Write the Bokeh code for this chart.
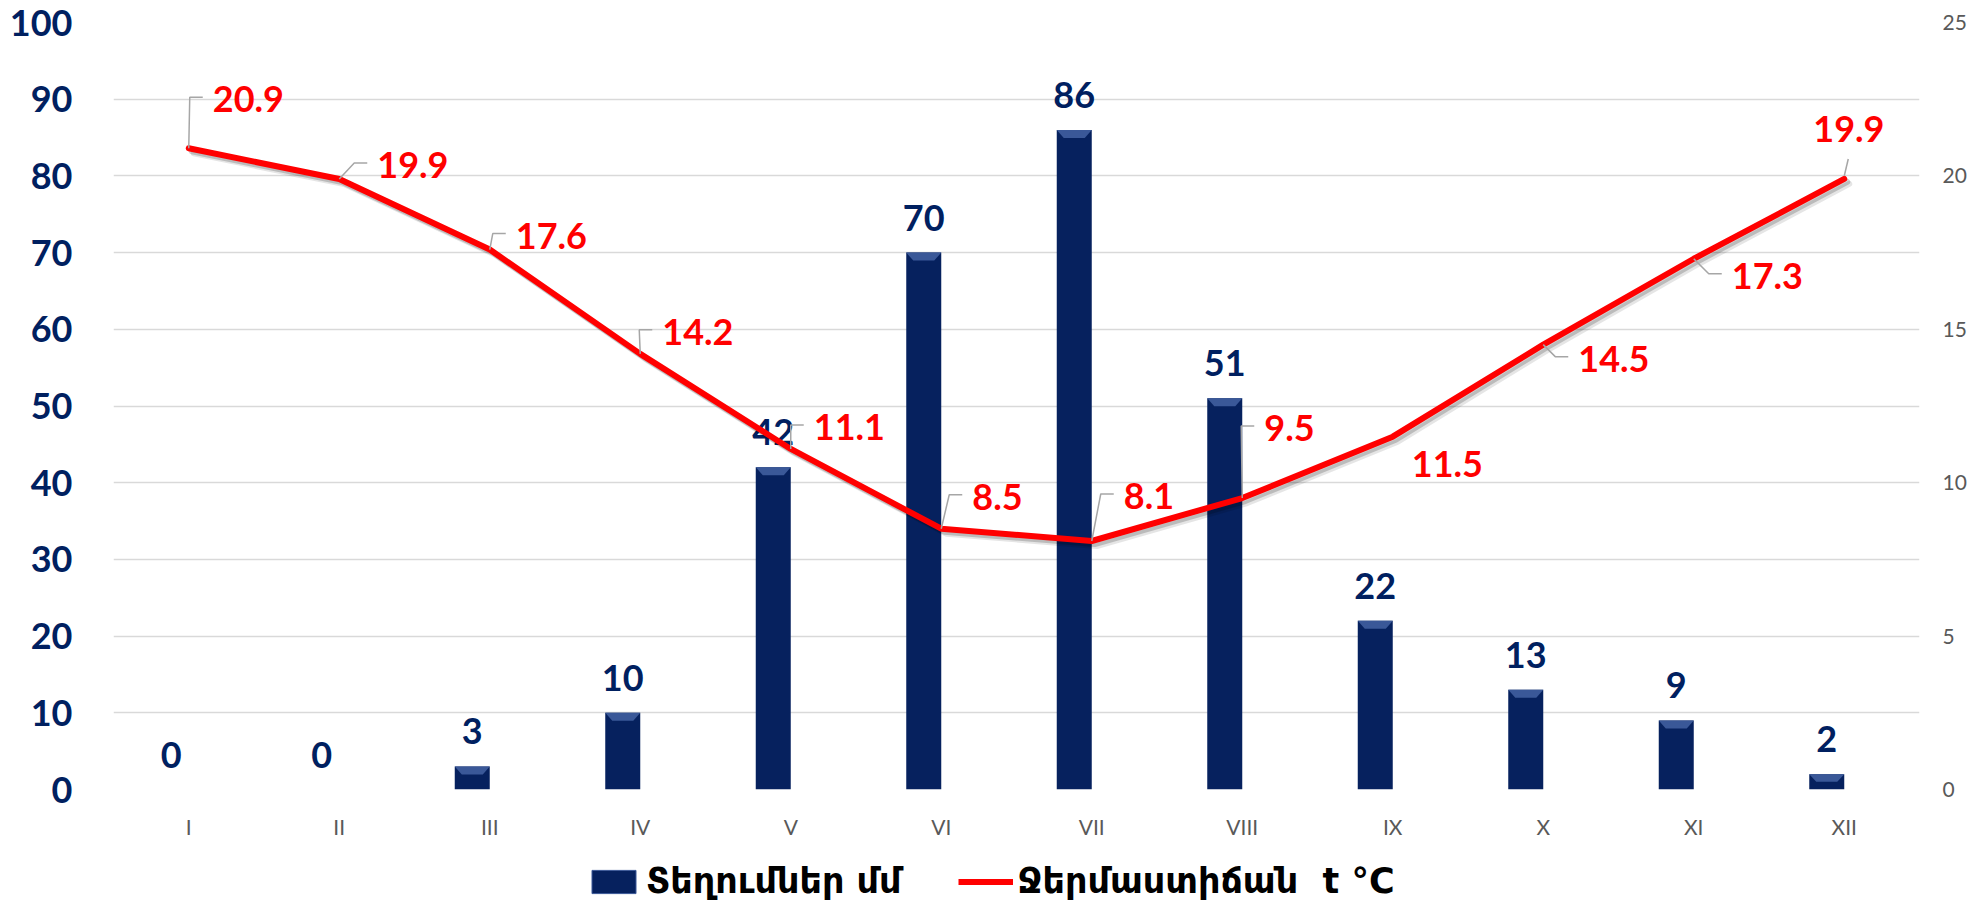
from bokeh.plotting import figure
from bokeh.layouts import column
from bokeh.models import (Range1d, LinearAxis, FixedTicker, Legend, LegendItem,
                          ColumnDataSource)
from bokeh.core.properties import value
from bokeh.embed import file_html
from bokeh.resources import INLINE

# ---- data ----
months = ["I", "II", "III", "IV", "V", "VI", "VII", "VIII", "IX", "X", "XI", "XII"]
precip = [0, 0, 3, 10, 42, 70, 86, 51, 22, 13, 9, 2]
temp = [20.9, 19.9, 17.6, 14.2, 11.1, 8.5, 8.1, 9.5, 11.5, 14.5, 17.3, 19.9]
precip_ticks = [0, 10, 20, 30, 40, 50, 60, 70, 80, 90, 100]
temp_ticks = [0, 5, 10, 15, 20, 25]
legend_labels = ["Տեղումներ մմ", "Ջերմաստիճան  t °C"]

# ---- style constants ----
W = 1971
H1, H2 = 844, 57
BL, BR, BT, BB = 113, 52, 22, 55
FRAME_W = W - BL - BR
FRAME_H = H1 - BT - BB
PX_X = FRAME_W / 12.0          # px per category
PX_T = FRAME_H / 25.0          # px per degree
PX_P = FRAME_H / 100.0         # px per mm
BAR_SHIFT = -17.5 / PX_X
BAR_W = 35 / PX_X
NAVY = "#002060"
BAR_FILL = "#06215e"
BEVEL = "#3a5898"
RED = "#FF0000"
GRAY = "#595959"
NUM_FONT = "Lato"

# temperature label placement (px: label left edge / centre relative to point)
lab_dx = [24, 38, 26, 22, 23, 31, 32, 22, 19, 35, 38, -31]
lab_dy = [-49, -14, -14, -22, -22, -32, -45, -70, 27, 14, 17, -50]
leader = ["elbow", "elbow", "elbow", "elbow", "elbow", "elbow", "elbow", "elbow",
          "none", "elbow", "elbow", "up"]

centers = [i + 0.5 for i in range(len(months))]
bar_x = [c + BAR_SHIFT for c in centers]

p = figure(width=W, height=H1, x_range=Range1d(0, 12), y_range=Range1d(0, 100),
           output_backend="svg", toolbar_location=None,
           min_border_left=BL, min_border_right=BR, min_border_top=BT,
           min_border_bottom=BB)
p.outline_line_color = None
p.background_fill_color = "white"
p.extra_y_ranges = {"temp": Range1d(0, 25)}

# grid
p.xgrid.grid_line_color = None
p.ygrid.ticker = FixedTicker(ticks=precip_ticks)
p.ygrid.grid_line_color = "#d9d9d9"
p.ygrid.grid_line_width = 1.5

# x axis
xa = p.xaxis[0]
xa.ticker = FixedTicker(ticks=centers)
xa.major_label_overrides = {c: m for c, m in zip(centers, months)}
xa.axis_line_color = None
xa.major_tick_line_color = None
xa.minor_tick_line_color = None
xa.major_tick_out = 0
xa.major_tick_in = 0
xa.major_label_standoff = 24
xa.major_label_text_font = NUM_FONT
xa.major_label_text_font_size = "21px"
xa.major_label_text_color = GRAY

# left axis
ya = p.yaxis[0]
ya.ticker = FixedTicker(ticks=precip_ticks)
ya.axis_line_color = None
ya.major_tick_line_color = None
ya.minor_tick_line_color = None
ya.major_tick_out = 0
ya.major_tick_in = 0
ya.major_label_standoff = 41
ya.major_label_text_font = NUM_FONT
ya.major_label_text_font_style = "bold"
ya.major_label_text_font_size = "36px"
ya.major_label_text_color = NAVY

# right axis
ra = LinearAxis(y_range_name="temp", ticker=FixedTicker(ticks=temp_ticks))
ra.axis_line_color = None
ra.major_tick_line_color = None
ra.minor_tick_line_color = None
ra.major_tick_out = 0
ra.major_tick_in = 0
ra.major_label_standoff = 23
ra.major_label_text_font = NUM_FONT
ra.major_label_text_font_size = "21px"
ra.major_label_text_color = GRAY
p.add_layout(ra, "right")

# bars
p.vbar(x=bar_x, top=precip, bottom=0, width=BAR_W, fill_color=BAR_FILL,
       line_color=None)

# bevel highlight on bar tops
bev_h = 8 / PX_P
bev_d = 7 / PX_X
xs, ys = [], []
for bx, v in zip(bar_x, precip):
    if v <= 0:
        continue
    h = min(bev_h, v * 0.5)
    xs.append([bx - BAR_W / 2, bx + BAR_W / 2, bx + BAR_W / 2 - bev_d, bx - BAR_W / 2 + bev_d])
    ys.append([v, v, v - h, v - h])
p.patches(xs, ys, fill_color=BEVEL, line_color=None)

# bar value labels
p.text(x=bar_x, y=precip, text=[str(v) for v in precip], text_align="center",
       text_baseline="middle", y_offset=-35, text_font=value(NUM_FONT),
       text_font_style="bold", text_font_size="36px", text_color=NAVY)

# soft drop shadow under the temperature line
for off, alpha in ((3, 0.18), (5, 0.10)):
    p.line(x=[c + off / PX_X for c in centers], y=[t - off / PX_T for t in temp],
           y_range_name="temp", line_color="black", line_alpha=alpha, line_width=6,
           line_join="round", line_cap="round")

# temperature line
p.line(x=centers, y=temp, y_range_name="temp", line_color=RED, line_width=6,
       line_join="round", line_cap="round")

# leader lines
lx, ly = [], []
for c, t, dx, dy, kind in zip(centers, temp, lab_dx, lab_dy, leader):
    if kind == "elbow":
        ex = c + (dx - 23) / PX_X
        endx = c + (dx - 10) / PX_X
        ey = t - (dy - 2) / PX_T
        lx.append([c, ex, endx])
        ly.append([t, ey, ey])
    elif kind == "up":
        lx.append([c, c + 4 / PX_X])
        ly.append([t + 3 / PX_T, t + 20 / PX_T])
p.multi_line(lx, ly, y_range_name="temp", line_color="#a6a6a6", line_width=1.5)

# temperature labels
tsrc = ColumnDataSource(dict(x=centers, y=temp, text=[f"{t:.1f}" for t in temp],
                             dx=lab_dx, dy=lab_dy))
p.text(x="x", y="y", text="text", source=tsrc, x_offset="dx", y_offset="dy",
       y_range_name="temp", text_align="left", text_baseline="middle",
       text_font=value(NUM_FONT), text_font_style="bold", text_font_size="36px",
       text_color=RED)

# ---- legend strip (separate figure below the chart) ----
lg = figure(width=W, height=H2, x_range=Range1d(0, 1), y_range=Range1d(0, 1),
            output_backend="svg", toolbar_location=None,
            x_axis_location=None, y_axis_location=None, min_border=0)
lg.outline_line_color = None
lg.xgrid.grid_line_color = None
lg.ygrid.grid_line_color = None
# proxy renderers (placed outside the visible range) that only feed the legend
r_bar = lg.vbar(x=[5], top=[-5], bottom=[-6], width=0.1, fill_color=BAR_FILL,
                line_color=BEVEL, line_width=1)
r_line = lg.line(x=[5, 6], y=[-5, -5], line_color=RED, line_width=6)

legend = Legend(items=[LegendItem(label=legend_labels[0], renderers=[r_bar]),
                       LegendItem(label=legend_labels[1], renderers=[r_line])],
                orientation="horizontal", location=(473, 0))
legend.label_text_font = "'DejaVu Sans', 'DejaVu Sans Condensed'"
legend.label_text_font_style = "bold"
legend.label_text_font_size = "35px"
legend.label_text_color = "black"
legend.glyph_width = 55
legend.glyph_height = 29
legend.label_standoff = 5
legend.spacing = 56
legend.padding = 0
legend.margin = 0
legend.border_line_color = None
legend.background_fill_alpha = 0
lg.add_layout(legend)

layout = column(p, lg, spacing=0)
open("out.html", "w").write(file_html(layout, INLINE))
